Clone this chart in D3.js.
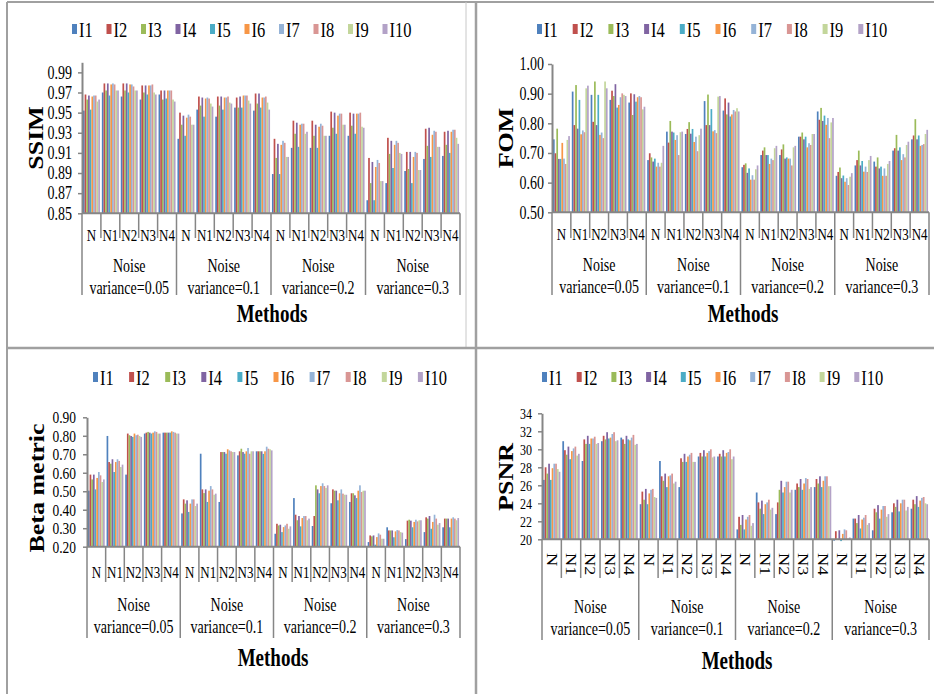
<!DOCTYPE html>
<html>
<head>
<meta charset="utf-8">
<script src="https://cdn.jsdelivr.net/npm/d3@7"></script>
<style>
  body { margin: 0; background: #fff; }
  svg text { font-family: "Liberation Serif", "Times New Roman", serif; fill: #000; }
</style>
</head>
<body>
<svg id="chart" width="934" height="694"></svg>
<script>
// series names and categories
const images = ["I1", "I2", "I3", "I4", "I5", "I6", "I7", "I8", "I9", "I10"];
const methods = ["N", "N1", "N2", "N3", "N4"];
const noiseLevels = ["0.05", "0.1", "0.2", "0.3"];

// one row per (noise level, method), one value per image I1..I10
const ssimValues = [
  [0.952, 0.968, 0.963, 0.967, 0.953, 0.966, 0.967, 0.967, 0.961, 0.963],
  [0.970, 0.979, 0.972, 0.979, 0.967, 0.978, 0.979, 0.978, 0.972, 0.972],
  [0.966, 0.979, 0.972, 0.979, 0.970, 0.978, 0.978, 0.976, 0.972, 0.972],
  [0.963, 0.977, 0.970, 0.977, 0.968, 0.977, 0.977, 0.978, 0.970, 0.968],
  [0.968, 0.972, 0.963, 0.972, 0.964, 0.972, 0.972, 0.972, 0.963, 0.961],
  [0.924, 0.950, 0.938, 0.947, 0.927, 0.945, 0.948, 0.946, 0.938, 0.938],
  [0.953, 0.966, 0.957, 0.965, 0.946, 0.964, 0.965, 0.964, 0.959, 0.956],
  [0.946, 0.966, 0.957, 0.966, 0.953, 0.965, 0.965, 0.966, 0.960, 0.959],
  [0.955, 0.965, 0.955, 0.966, 0.955, 0.967, 0.967, 0.967, 0.962, 0.959],
  [0.952, 0.969, 0.959, 0.969, 0.955, 0.965, 0.965, 0.966, 0.960, 0.953],
  [0.889, 0.924, 0.905, 0.919, 0.889, 0.918, 0.922, 0.920, 0.906, 0.906],
  [0.915, 0.942, 0.929, 0.940, 0.916, 0.938, 0.939, 0.939, 0.929, 0.931],
  [0.915, 0.942, 0.927, 0.938, 0.915, 0.936, 0.939, 0.937, 0.927, 0.927],
  [0.927, 0.951, 0.935, 0.950, 0.929, 0.947, 0.949, 0.949, 0.938, 0.938],
  [0.927, 0.950, 0.937, 0.949, 0.929, 0.949, 0.949, 0.950, 0.936, 0.935],
  [0.863, 0.905, 0.880, 0.901, 0.863, 0.896, 0.903, 0.900, 0.882, 0.882],
  [0.880, 0.925, 0.909, 0.922, 0.895, 0.918, 0.922, 0.920, 0.910, 0.909],
  [0.892, 0.911, 0.894, 0.911, 0.880, 0.906, 0.911, 0.910, 0.893, 0.893],
  [0.904, 0.934, 0.917, 0.935, 0.906, 0.928, 0.932, 0.931, 0.916, 0.916],
  [0.907, 0.931, 0.918, 0.932, 0.910, 0.931, 0.933, 0.933, 0.925, 0.919]
];

const fomValues = [
  [0.746, 0.699, 0.782, 0.680, 0.680, 0.734, 0.681, 0.663, 0.744, 0.757],
  [0.907, 0.794, 0.929, 0.782, 0.879, 0.763, 0.776, 0.770, 0.918, 0.927],
  [0.896, 0.805, 0.941, 0.794, 0.896, 0.761, 0.769, 0.750, 0.941, 0.918],
  [0.879, 0.910, 0.892, 0.932, 0.853, 0.862, 0.888, 0.901, 0.896, 0.892],
  [0.870, 0.901, 0.828, 0.898, 0.873, 0.888, 0.892, 0.888, 0.847, 0.856],
  [0.676, 0.699, 0.685, 0.671, 0.681, 0.654, 0.667, 0.654, 0.667, 0.724],
  [0.772, 0.735, 0.808, 0.772, 0.769, 0.744, 0.760, 0.693, 0.770, 0.772],
  [0.764, 0.781, 0.804, 0.765, 0.781, 0.737, 0.755, 0.706, 0.760, 0.782],
  [0.875, 0.794, 0.897, 0.794, 0.848, 0.773, 0.777, 0.767, 0.890, 0.892],
  [0.843, 0.884, 0.830, 0.870, 0.823, 0.830, 0.845, 0.840, 0.851, 0.840],
  [0.652, 0.660, 0.665, 0.633, 0.648, 0.610, 0.625, 0.610, 0.645, 0.658],
  [0.693, 0.708, 0.719, 0.693, 0.693, 0.663, 0.681, 0.676, 0.716, 0.724],
  [0.693, 0.712, 0.729, 0.681, 0.685, 0.681, 0.681, 0.658, 0.719, 0.724],
  [0.755, 0.755, 0.769, 0.746, 0.755, 0.719, 0.733, 0.727, 0.764, 0.764],
  [0.840, 0.812, 0.852, 0.808, 0.826, 0.795, 0.818, 0.750, 0.803, 0.818],
  [0.623, 0.636, 0.651, 0.615, 0.624, 0.603, 0.615, 0.592, 0.620, 0.632],
  [0.658, 0.676, 0.708, 0.658, 0.673, 0.637, 0.654, 0.636, 0.676, 0.690],
  [0.671, 0.654, 0.685, 0.648, 0.654, 0.623, 0.648, 0.623, 0.663, 0.673],
  [0.708, 0.716, 0.761, 0.708, 0.719, 0.676, 0.696, 0.685, 0.727, 0.738],
  [0.746, 0.759, 0.814, 0.746, 0.759, 0.724, 0.727, 0.730, 0.764, 0.778]
];

const betaValues = [
  [0.503, 0.590, 0.564, 0.590, 0.510, 0.572, 0.604, 0.586, 0.550, 0.564],
  [0.799, 0.658, 0.649, 0.673, 0.604, 0.658, 0.673, 0.664, 0.631, 0.644],
  [0.590, 0.812, 0.803, 0.799, 0.794, 0.812, 0.803, 0.806, 0.799, 0.794],
  [0.812, 0.817, 0.821, 0.817, 0.812, 0.817, 0.824, 0.821, 0.812, 0.812],
  [0.817, 0.817, 0.817, 0.817, 0.817, 0.824, 0.821, 0.817, 0.812, 0.812],
  [0.380, 0.456, 0.433, 0.451, 0.388, 0.433, 0.456, 0.456, 0.420, 0.433],
  [0.703, 0.510, 0.490, 0.510, 0.442, 0.503, 0.528, 0.510, 0.481, 0.487],
  [0.442, 0.712, 0.712, 0.712, 0.703, 0.727, 0.721, 0.716, 0.712, 0.712],
  [0.694, 0.716, 0.730, 0.712, 0.703, 0.716, 0.734, 0.703, 0.716, 0.716],
  [0.716, 0.716, 0.716, 0.716, 0.702, 0.716, 0.741, 0.730, 0.727, 0.721],
  [0.270, 0.324, 0.315, 0.319, 0.279, 0.306, 0.315, 0.324, 0.297, 0.310],
  [0.463, 0.373, 0.343, 0.366, 0.310, 0.355, 0.366, 0.366, 0.343, 0.352],
  [0.312, 0.366, 0.532, 0.510, 0.489, 0.528, 0.543, 0.528, 0.518, 0.532],
  [0.435, 0.510, 0.503, 0.503, 0.451, 0.489, 0.510, 0.487, 0.481, 0.481],
  [0.442, 0.489, 0.489, 0.478, 0.463, 0.503, 0.532, 0.496, 0.503, 0.503],
  [0.225, 0.261, 0.256, 0.261, 0.211, 0.252, 0.272, 0.265, 0.243, 0.243],
  [0.305, 0.288, 0.288, 0.288, 0.251, 0.283, 0.290, 0.288, 0.279, 0.276],
  [0.241, 0.341, 0.346, 0.341, 0.305, 0.334, 0.346, 0.337, 0.343, 0.343],
  [0.279, 0.359, 0.352, 0.366, 0.297, 0.334, 0.373, 0.352, 0.319, 0.328],
  [0.305, 0.352, 0.352, 0.352, 0.305, 0.352, 0.359, 0.352, 0.343, 0.355]
];

const psnrValues = [
  [26.6, 28.0, 27.3, 28.4, 26.6, 27.9, 28.4, 28.4, 27.8, 27.5],
  [30.9, 29.9, 29.4, 30.3, 28.9, 29.8, 30.1, 30.3, 29.3, 29.5],
  [28.7, 31.1, 30.6, 31.5, 30.6, 31.2, 31.2, 31.4, 30.6, 30.7],
  [30.9, 31.5, 31.1, 31.9, 31.2, 31.3, 31.7, 31.9, 30.9, 31.0],
  [31.3, 31.1, 30.6, 31.5, 31.1, 31.0, 31.3, 31.6, 30.5, 30.6],
  [23.9, 25.3, 24.4, 25.6, 23.9, 25.1, 25.5, 25.6, 24.7, 24.6],
  [28.7, 27.0, 26.5, 27.3, 25.8, 27.0, 27.1, 27.3, 26.2, 26.4],
  [25.8, 29.0, 28.6, 29.5, 28.6, 29.2, 29.4, 29.6, 28.6, 28.6],
  [29.2, 29.6, 29.2, 29.9, 29.2, 29.6, 29.8, 30.0, 29.1, 29.2],
  [29.2, 29.5, 29.2, 29.9, 29.2, 29.6, 29.7, 30.0, 28.9, 29.2],
  [21.1, 22.5, 21.6, 22.7, 21.1, 22.2, 22.5, 22.7, 21.5, 21.8],
  [25.2, 24.1, 23.4, 24.3, 22.8, 23.9, 24.1, 24.4, 23.3, 23.5],
  [22.8, 24.1, 25.5, 26.5, 25.2, 25.8, 26.4, 26.4, 25.2, 25.5],
  [25.5, 26.2, 25.8, 26.7, 25.5, 26.2, 26.8, 26.7, 25.6, 25.8],
  [25.8, 26.7, 26.2, 27.0, 25.8, 26.5, 27.0, 27.0, 25.9, 25.9],
  [19.85, 20.9, 20.0, 21.0, 19.8, 20.6, 21.1, 21.0, 20.1, 20.2],
  [22.3, 22.3, 21.8, 22.7, 21.2, 22.2, 22.4, 22.7, 21.6, 21.8],
  [21.0, 23.4, 23.0, 23.8, 22.3, 23.3, 23.7, 23.7, 22.5, 22.8],
  [23.0, 24.0, 23.6, 24.4, 23.1, 24.0, 24.4, 24.4, 23.2, 23.6],
  [23.4, 24.4, 23.9, 24.8, 23.6, 24.3, 24.6, 24.7, 24.0, 23.9]
];

// axis tick labels
const ssimTicks = [0.85, 0.87, 0.89, 0.91, 0.93, 0.95, 0.97, 0.99];
const fomTicks = [0.50, 0.60, 0.70, 0.80, 0.90, 1.00];
const betaTicks = [0.20, 0.30, 0.40, 0.50, 0.60, 0.70, 0.80, 0.90];
const psnrTicks = [20, 22, 24, 26, 28, 30, 32, 34];

const colors = ["#4F81BD", "#C0504D", "#9BBB59", "#8064A2", "#4BACC6",
                "#F79646", "#95B3D7", "#D99694", "#C3D69B", "#B3A2C7"];

const SY = 1.3;       // the source picture is stretched vertically
const axisColor = "#868686";

const svg = d3.select("#chart");

function label(g, x, y, s, size, opts = {}) {
  return g.append("text")
    .attr("transform", `translate(${x},${y}) scale(1,${SY})` + (opts.rotate ? ` rotate(${opts.rotate})` : ""))
    .attr("text-anchor", opts.anchor || "middle")
    .attr("dy", "0.35em")
    .style("font-size", size + "px")
    .style("font-weight", opts.bold ? "bold" : null)
    .text(s);
}

// frame lines between the four pictures
const frame = svg.append("g").attr("stroke", "#a0a0a0").attr("fill", "none");
frame.append("line").attr("x1", 7).attr("x2", 934).attr("y1", 2).attr("y2", 2).attr("stroke-width", 2);
frame.append("line").attr("x1", 7).attr("x2", 7).attr("y1", 2).attr("y2", 694).attr("stroke-width", 2);
frame.append("line").attr("x1", 466).attr("x2", 466).attr("y1", 2).attr("y2", 348).attr("stroke-width", 1).attr("stroke", "#c8c8c8");
frame.append("line").attr("x1", 476).attr("x2", 476).attr("y1", 2).attr("y2", 694).attr("stroke-width", 2.5);
frame.append("line").attr("x1", 7).attr("x2", 934).attr("y1", 348).attr("y2", 348).attr("stroke-width", 2.5);

const panels = [
  { values: ssimValues, ticks: ssimTicks, fmt: ".2f", tickSize: 14, title: "SSIM", domain: [0.85, 1.0],
    x0: 82, x1: 460, yTop: 62.3, yBot: 213.3, labelRight: 72,
    legendX: 72, legendY: 29, legendStep: 34.5,
    methodY: 235, innerBottom: 238, outerBottom: 295, noiseY: 266,
    xTitleX: 272, xTitleY: 313, yTitleX: 36, yTitleY: 138 },
  { values: fomValues, ticks: fomTicks, fmt: ".2f", tickSize: 14, title: "FOM", domain: [0.5, 1.0],
    x0: 552, x1: 929, yTop: 64, yBot: 212.3, labelRight: 544,
    legendX: 537, legendY: 29, legendStep: 35.7,
    methodY: 234, innerBottom: 238, outerBottom: 295, noiseY: 265,
    xTitleX: 743, xTitleY: 313, yTitleX: 506, yTitleY: 138 },
  { values: betaValues, ticks: betaTicks, fmt: ".2f", tickSize: 13.5, title: "Beta metric", domain: [0.2, 0.9],
    x0: 87, x1: 460, yTop: 417.3, yBot: 546.7, labelRight: 76,
    legendX: 93, legendY: 377, legendStep: 36.1,
    methodY: 572, innerBottom: 582, outerBottom: 638, noiseY: 605,
    xTitleX: 273, xTitleY: 657, yTitleX: 37, yTitleY: 488 },
  { values: psnrValues, ticks: psnrTicks, fmt: "d", tickSize: 12, title: "PSNR", domain: [20, 34],
    x0: 542, x1: 929, yTop: 413.3, yBot: 539.3, labelRight: 532,
    legendX: 542, legendY: 377, legendStep: 34.7,
    methodY: 553, innerBottom: 578, outerBottom: 640, noiseY: 607, rotateMethods: true,
    xTitleX: 737, xTitleY: 660, yTitleX: 506, yTitleY: 477 }
];

const cats = noiseLevels.flatMap(n => methods.map(m => n + "|" + m));

panels.forEach(p => {
  const g = svg.append("g");
  const y = d3.scaleLinear().domain(p.domain).range([p.yBot, p.yTop]);
  const x = d3.scaleBand().domain(cats).range([p.x0, p.x1]).paddingInner(0.1).paddingOuter(0.05);
  const xi = d3.scaleBand().domain(images).range([0, x.bandwidth()]);
  const step = x.step();

  // bars
  g.append("g").selectAll("g").data(p.values).join("g")
    .attr("transform", (d, i) => `translate(${x(cats[i])},0)`)
    .selectAll("rect").data(d => d).join("rect")
    .attr("x", (v, j) => xi(images[j]))
    .attr("width", xi.bandwidth())
    .attr("y", v => Math.min(y(v), p.yBot))
    .attr("height", v => Math.abs(p.yBot - y(v)))
    .attr("fill", (v, j) => colors[j]);

  // y axis
  const ya = g.append("g").attr("transform", `translate(${p.x0},0)`)
    .call(d3.axisLeft(y).tickValues(p.ticks).tickFormat(d3.format(p.fmt))
      .tickSize(4).tickSizeOuter(0).tickPadding(p.x0 - p.labelRight - 4));
  ya.select(".domain").attr("stroke", axisColor).attr("stroke-width", 2);
  ya.selectAll(".tick line").attr("stroke", axisColor).attr("stroke-width", 1.5);
  ya.selectAll(".tick text")
    .attr("transform", `scale(1,${SY})`)
    .style("font-family", '"Liberation Serif", serif').style("font-size", p.tickSize + "px").attr("fill", "#000");

  // x axis with two-level category boxes
  const xa = g.append("g").attr("stroke", axisColor);
  xa.append("line").attr("x1", p.x0).attr("x2", p.x1).attr("y1", p.yBot).attr("y2", p.yBot).attr("stroke-width", 2);
  xa.selectAll("line.sep").data(d3.range(cats.length + 1)).join("line").attr("class", "sep")
    .attr("x1", i => p.x0 + i * step).attr("x2", i => p.x0 + i * step)
    .attr("y1", p.yBot).attr("y2", i => i % methods.length === 0 ? p.outerBottom : p.innerBottom)
    .attr("stroke-width", 1.5);

  cats.forEach((c, i) => {
    const cx = p.x0 + (i + 0.5) * step;
    const m = methods[i % methods.length];
    if (p.rotateMethods) label(g, cx, p.methodY, m, 14, { rotate: 90, anchor: "start" });
    else label(g, cx, p.methodY, m, 13);
  });
  noiseLevels.forEach((n, k) => {
    const cx = p.x0 + (k * methods.length + methods.length / 2) * step;
    label(g, cx, p.noiseY, "Noise", 14);
    label(g, cx, p.noiseY + 22, "variance=" + n, 14);
  });

  // titles
  label(g, p.xTitleX, p.xTitleY, "Methods", 19, { bold: true });
  label(g, p.yTitleX, p.yTitleY, p.title, 20, { bold: true, rotate: -90 });

  // legend
  images.forEach((name, j) => {
    const lx = p.legendX + j * p.legendStep;
    g.append("rect").attr("x", lx).attr("y", p.legendY - 5).attr("width", 5).attr("height", 10).attr("fill", colors[j]);
    label(g, lx + 7, p.legendY, name, 16.5, { anchor: "start" });
  });
});
</script>
</body>
</html>
